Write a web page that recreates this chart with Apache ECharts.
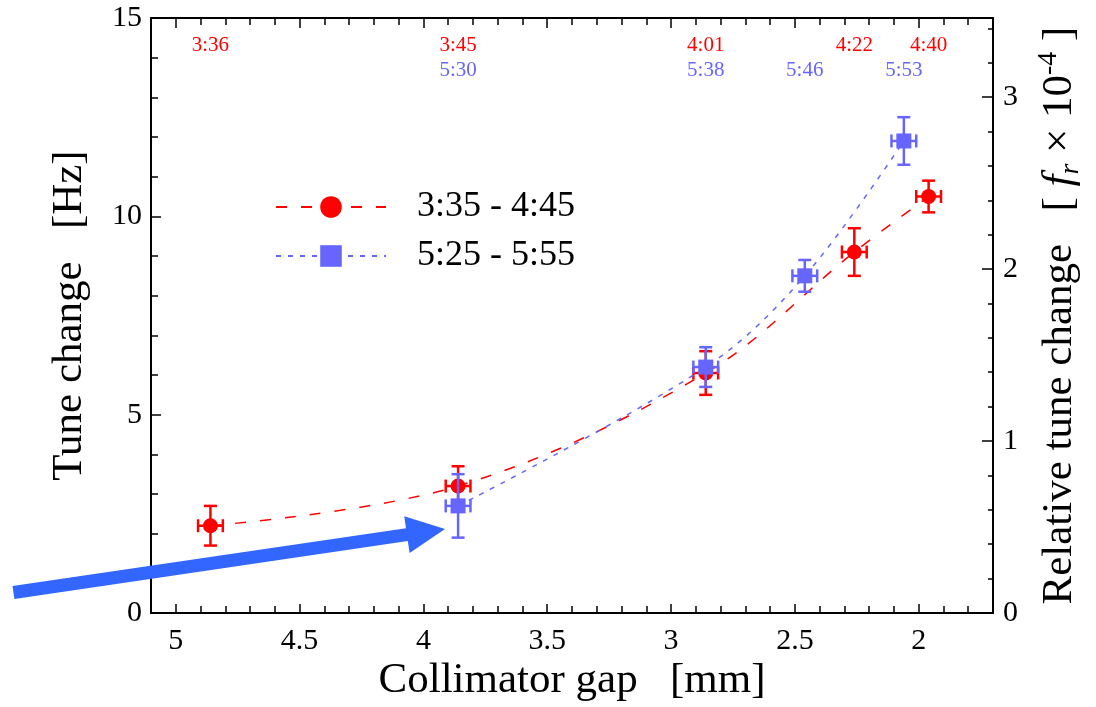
<!DOCTYPE html>
<html>
<head>
<meta charset="utf-8">
<script src="https://cdn.jsdelivr.net/npm/echarts@6/dist/echarts.min.js"></script>
<style>html,body{margin:0;padding:0;background:#fff}#chart{width:1096px;height:707px}</style>
</head>
<body>
<div id="chart"></div>
<script>
// ---- data ----
const redX = [4.86, 3.86, 2.86, 2.26, 1.96];
const redY = [2.2, 3.2, 6.05, 9.1, 10.5];
const redYErr = [0.5, 0.5, 0.55, 0.6, 0.4];
const redXErr = [0.05, 0.05, 0.05, 0.05, 0.05];
const redTimes = ['3:36', '3:45', '4:01', '4:22', '4:40'];

const blueX = [3.86, 2.86, 2.46, 2.06];
const blueY = [2.7, 6.2, 8.5, 11.9];
const blueYErr = [0.8, 0.5, 0.4, 0.6];
const blueXErr = [0.05, 0.05, 0.05, 0.05];
const blueTimes = ['5:30', '5:38', '5:46', '5:53'];

const redName = '3:35 - 4:45';
const blueName = '5:25 - 5:55';

// ---- axis ranges ----
const X_MIN = 1.7, X_MAX = 5.1;          // full plotted gap range
const XL_MIN = 2, XL_MAX = 5;            // labelled (major) range
const Y_MAX = 15, R_MAX = 3.46;

// ---- style / layout ----
const FONT = 'Liberation Serif';
const RED = '#ff0000';
const BLUE = '#6666ff';
const ARROW = '#3366ff';
const RED_LABEL_Y = 14.3;
const BLUE_LABEL_Y = 13.67;
const G = {left: 151, right: 103, top: 18, bottom: 93, width: 1096};

const chart = echarts.init(document.getElementById('chart'), null, {renderer: 'canvas'});

function errRender(color) {
  return function (params, api) {
    const x = api.value(0), y = api.value(1), ey = api.value(2), ex = api.value(3);
    const t = api.coord([x, y + ey]), b = api.coord([x, y - ey]);
    const l = api.coord([x + ex, y]), r = api.coord([x - ex, y]);
    const cap = 6.5;
    const st = {stroke: color, lineWidth: 2.5};
    const ln = (x1, y1, x2, y2) => ({type: 'line', shape: {x1, y1, x2, y2}, style: st});
    return {type: 'group', children: [
      ln(t[0], t[1], b[0], b[1]),
      ln(t[0] - cap, t[1], t[0] + cap, t[1]),
      ln(b[0] - cap, b[1], b[0] + cap, b[1]),
      ln(l[0], l[1], r[0], r[1]),
      ln(l[0], l[1] - cap, l[0], l[1] + cap),
      ln(r[0], r[1] - cap, r[0], r[1] + cap)
    ]};
  };
}
function labelRender(color, yPos, texts) {
  return function (params, api) {
    const p = api.coord([api.value(0), yPos]);
    return {type: 'text', x: p[0], y: p[1], style: {text: texts[params.dataIndex], fill: color, font: '21px "' + FONT + '"', align: 'center', verticalAlign: 'middle'}};
  };
}

// second grid covering exactly the labelled range [2,5] of the main grid
const plotW = G.width - G.left - G.right;
const pxPerUnit = plotW / (X_MAX - X_MIN);
const g2Left = G.left + (X_MAX - XL_MAX) * pxPerUnit;
const g2Right = G.right + (XL_MIN - X_MIN) * pxPerUnit;

const axisLine = {show: true, onZero: false, lineStyle: {color: '#000', width: 2}};
const noLine = {show: false};
const tickStyle = {color: '#000', width: 1.5};
const isMult = (v, s) => Math.abs(v / s - Math.round(v / s)) < 1e-6;

const option = {
  backgroundColor: '#fff',
  animation: false,
  grid: [
    {left: G.left, right: G.right, top: G.top, bottom: G.bottom},
    {left: g2Left, right: g2Right, top: G.top, bottom: G.bottom}
  ],
  legend: {
    orient: 'vertical', left: 275, top: 189, padding: 0,
    itemWidth: 110, itemHeight: 27, itemGap: 13,
    data: [redName, blueName],
    textStyle: {fontFamily: FONT, fontSize: 36, color: '#000', padding: [0, 0, 0, 26]}
  },
  xAxis: [
    // main grid: frame + minor ticks (0.1)
    {type: 'value', gridIndex: 0, min: X_MIN, max: X_MAX, inverse: true, position: 'bottom', interval: 0.1,
      splitLine: {show: false}, axisLine: axisLine,
      axisTick: {inside: true, length: 7, lineStyle: tickStyle}, axisLabel: {show: false},
      name: 'Collimator gap   [mm]', nameLocation: 'middle', nameGap: 46,
      nameTextStyle: {fontFamily: FONT, fontSize: 43, color: '#000'}},
    {type: 'value', gridIndex: 0, min: X_MIN, max: X_MAX, inverse: true, position: 'top', interval: 0.1,
      splitLine: {show: false}, axisLine: axisLine,
      axisTick: {inside: true, length: 7, lineStyle: tickStyle}, axisLabel: {show: false}},
    // label grid: major ticks (0.5) + labels
    {type: 'value', gridIndex: 1, min: XL_MIN, max: XL_MAX, inverse: true, position: 'bottom', interval: 0.5,
      splitLine: {show: false}, axisLine: noLine,
      axisTick: {inside: true, length: 10, lineStyle: tickStyle},
      axisLabel: {fontFamily: FONT, fontSize: 30, color: '#000', margin: 12,
        formatter: v => String(+Number(v).toFixed(1))}},
    {type: 'value', gridIndex: 1, min: XL_MIN, max: XL_MAX, inverse: true, position: 'top', interval: 0.5,
      splitLine: {show: false}, axisLine: noLine,
      axisTick: {inside: true, length: 10, lineStyle: tickStyle}, axisLabel: {show: false}}
  ],
  yAxis: [
    {type: 'value', gridIndex: 0, min: 0, max: Y_MAX, interval: 5, position: 'left',
      splitLine: {show: false}, axisLine: axisLine,
      axisTick: {inside: true, length: 10, lineStyle: tickStyle},
      minorTick: {show: true, splitNumber: 5, length: 7, lineStyle: tickStyle},
      axisLabel: {fontFamily: FONT, fontSize: 30, color: '#000', margin: 9},
      name: 'Tune change   [Hz]', nameLocation: 'middle', nameGap: 60,
      nameTextStyle: {fontFamily: FONT, fontSize: 43, color: '#000'}},
    {type: 'value', gridIndex: 0, min: 0, max: R_MAX, interval: 1, position: 'right',
      splitLine: {show: false}, axisLine: axisLine,
      axisTick: {inside: true, length: 11, lineStyle: tickStyle},
      axisLabel: {fontFamily: FONT, fontSize: 30, color: '#000', margin: 10,
        formatter: v => (isMult(v, 1) ? String(Math.round(v)) : '')},
      name: 'Relative tune change   [ {i|f}{sub|r} × 10{sup|-4} ]', nameLocation: 'middle', nameGap: 42,
      nameRotate: 90,
      nameTextStyle: {fontFamily: FONT, fontSize: 43, color: '#000', lineHeight: 50,
        rich: {
          i: {fontFamily: FONT, fontSize: 43, fontStyle: 'italic', color: '#000'},
          sub: {fontFamily: FONT, fontSize: 28, fontStyle: 'italic', color: '#000', verticalAlign: 'bottom', lineHeight: 50},
          sup: {fontFamily: FONT, fontSize: 28, color: '#000', verticalAlign: 'top', lineHeight: 50}
        }}},
    {type: 'value', gridIndex: 0, min: 0, max: R_MAX, interval: 0.2, position: 'right',
      splitLine: {show: false}, axisLine: axisLine,
      axisTick: {inside: true, length: 5, lineStyle: tickStyle}, axisLabel: {show: false}},
    {type: 'value', gridIndex: 1, min: 0, max: Y_MAX, show: false}
  ],
  series: [
    {name: redName, type: 'line', xAxisIndex: 0, yAxisIndex: 0,
      data: redX.map((x, i) => [x, redY[i]]), smooth: 0.35,
      symbol: 'circle', symbolSize: 15, showAllSymbol: true,
      lineStyle: {color: RED, width: 1.5, type: [11, 14]},
      itemStyle: {color: RED}, z: 3},
    {type: 'custom', xAxisIndex: 0, yAxisIndex: 0, renderItem: errRender(RED),
      data: redX.map((x, i) => [x, redY[i], redYErr[i], redXErr[i]]), z: 3},
    {name: blueName, type: 'line', xAxisIndex: 0, yAxisIndex: 0,
      data: blueX.map((x, i) => [x, blueY[i]]), smooth: 0.35,
      symbol: 'rect', symbolSize: 15, showAllSymbol: true,
      lineStyle: {color: BLUE, width: 1.5, type: [5, 7]},
      itemStyle: {color: BLUE}, z: 4},
    {type: 'custom', xAxisIndex: 0, yAxisIndex: 0, renderItem: errRender(BLUE),
      data: blueX.map((x, i) => [x, blueY[i], blueYErr[i], blueXErr[i]]), z: 4},
    {type: 'custom', xAxisIndex: 0, yAxisIndex: 0, renderItem: labelRender(RED, RED_LABEL_Y, redTimes),
      data: redX.map(x => [x]), silent: true},
    {type: 'custom', xAxisIndex: 0, yAxisIndex: 0, renderItem: labelRender(BLUE, BLUE_LABEL_Y, blueTimes),
      data: blueX.map(x => [x]), silent: true}
  ],
  graphic: [{
    type: 'polygon', z: 100,
    shape: {points: [[12.5, 586], [406, 528.2], [404.2, 516.3], [445, 529], [409.6, 552.9], [407.8, 541], [14.4, 599]]},
    style: {fill: ARROW}
  }]
};
chart.setOption(option);
</script>
</body>
</html>
